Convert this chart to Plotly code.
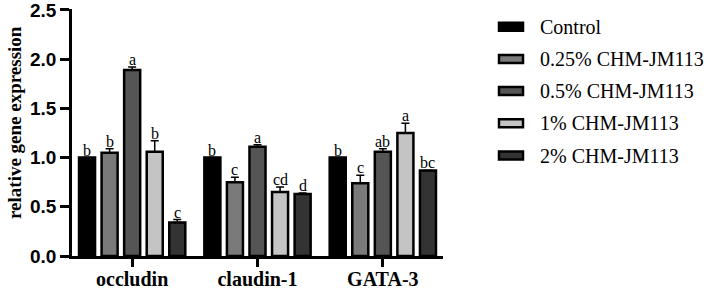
import plotly.graph_objects as go

genes = ["occludin", "claudin-1", "GATA-3"]
groups = ["Control", "0.25% CHM-JM113", "0.5% CHM-JM113", "1% CHM-JM113", "2% CHM-JM113"]
colors = ["#000000", "#7a7a7a", "#555555", "#c4c4c4", "#333333"]

control = [1.00, 1.00, 1.00]
chm025 = [1.05, 0.75, 0.74]
chm05 = [1.89, 1.11, 1.06]
chm1 = [1.06, 0.65, 1.25]
chm2 = [0.34, 0.63, 0.87]

err_control = [0.0, 0.0, 0.0]
err_025 = [0.04, 0.05, 0.08]
err_05 = [0.03, 0.02, 0.03]
err_1 = [0.11, 0.05, 0.10]
err_2 = [0.03, 0.01, 0.0]

let_control = ["b", "b", "b"]
let_025 = ["b", "c", "c"]
let_05 = ["a", "a", "ab"]
let_1 = ["b", "cd", "a"]
let_2 = ["c", "d", "bc"]

y_ticks = [0, 0.5, 1.0, 1.5, 2.0, 2.5]
y_ticklabels = ["0.0", "0.5", "1.0", "1.5", "2.0", "2.5"]

values = [control, chm025, chm05, chm1, chm2]
errors = [err_control, err_025, err_05, err_1, err_2]
letters = [let_control, let_025, let_05, let_1, let_2]

pitch = 0.18
bw = 0.128

L, R, T, B = 72, 264, 9, 34
W, H = 707, 290
PW, PH = W - L - R, H - T - B

fig = go.Figure()
annotations = []
for i, name in enumerate(groups):
    xs = [g + (i - 2) * pitch for g in range(len(genes))]
    fig.add_trace(go.Bar(
        x=xs, y=values[i], width=bw, name=name,
        marker=dict(color=colors[i], line=dict(color="#000000", width=2.5)),
        error_y=dict(type="data", symmetric=False, array=errors[i],
                     arrayminus=[0] * len(genes), color="#000000",
                     thickness=1.5, width=4, visible=True),
        showlegend=False,
    ))
    for g in range(len(genes)):
        annotations.append(dict(
            x=xs[g], y=values[i][g] + errors[i][g], xref="x", yref="y",
            text=letters[i][g], showarrow=False, yanchor="bottom", yshift=-3,
            font=dict(family="Liberation Serif", size=16, color="#000000"),
        ))

# custom legend
leg_top = 26.7
leg_step = 32.2
for i, name in enumerate(groups):
    yc = 1 - (leg_top + i * leg_step - T) / PH
    fig.add_shape(type="rect", xref="paper", yref="paper",
                  x0=(499 - L) / PW, x1=(523 - L) / PW,
                  y0=yc - 4 / PH, y1=yc + 4 / PH,
                  fillcolor=colors[i], line=dict(color="#000000", width=2.5))
    annotations.append(dict(
        x=(538 - L) / PW, y=yc, xref="paper", yref="paper", text=name,
        showarrow=False, xanchor="left", yanchor="middle",
        font=dict(family="Liberation Serif", size=20, color="#000000"),
    ))

annotations.append(dict(
    x=(14 - L) / PW, y=(1 - (123 - T) / PH), xref="paper", yref="paper",
    text="<b>relative gene expression</b>",
    showarrow=False, textangle=-90, xanchor="center", yanchor="middle",
    font=dict(family="Liberation Serif", size=19, color="#000000"),
))

fig.update_layout(
    width=W, height=H,
    margin=dict(l=L, r=R, t=T, b=B, autoexpand=False),
    plot_bgcolor="white", paper_bgcolor="white",
    annotations=annotations,
    xaxis=dict(range=[-0.48, 2.48], tickvals=list(range(len(genes))),
               ticktext=["<b>%s</b>" % g for g in genes],
               showline=True, linecolor="#000000", linewidth=2.5,
               ticks="outside", ticklen=8, tickwidth=2.5, tickcolor="#000000",
               ticklabelstandoff=-5,
               tickfont=dict(family="Liberation Serif", size=20, color="#000000"),
               showgrid=False, zeroline=False, automargin=False),
    yaxis=dict(range=[0, 2.51], tickvals=y_ticks,
               ticktext=["<b>%s</b>" % t for t in y_ticklabels],
               showline=True, linecolor="#000000", linewidth=2.5,
               ticks="outside", ticklen=9, tickwidth=2.5, tickcolor="#000000",
               ticklabeloverflow="allow",
               tickfont=dict(family="Liberation Sans", size=19, color="#000000"),
               showgrid=False, zeroline=False, automargin=False),
)

fig.write_html("out.html", config={"displayModeBar": False},
               post_script="document.body.style.margin='0';document.body.style.overflow='hidden';")
